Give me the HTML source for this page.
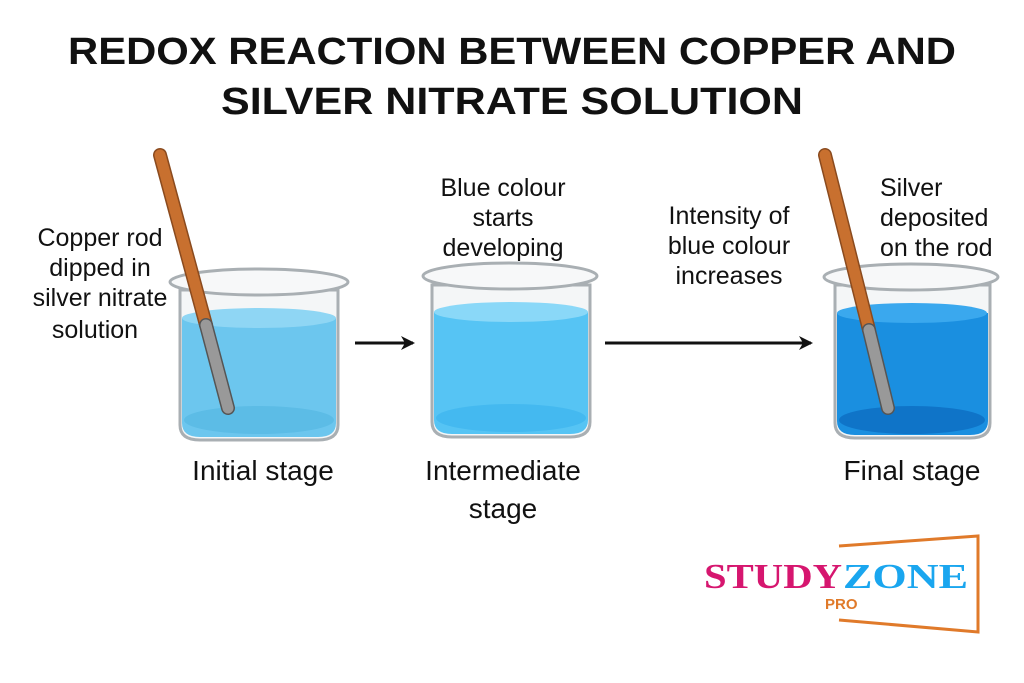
<!DOCTYPE html>
<html><head><meta charset="utf-8"><style>
html,body{margin:0;padding:0;background:#fff;}
svg{display:block;}
text{font-family:"Liberation Sans","DejaVu Sans",sans-serif;fill:#111;}
text.serif{font-family:"Liberation Serif","DejaVu Serif",serif;}
</style></head><body>
<svg width="1024" height="683" viewBox="0 0 1024 683" xmlns="http://www.w3.org/2000/svg">
<defs>
<marker id="ah" markerWidth="14" markerHeight="14" refX="12" refY="7" orient="auto" markerUnits="userSpaceOnUse"><path d="M0,0 L14,7 L0,14 L4,7 Z" fill="#111"/></marker>
</defs>
<text x="512" y="64" text-anchor="middle" font-size="38" font-weight="bold" textLength="888" lengthAdjust="spacingAndGlyphs">REDOX REACTION BETWEEN COPPER AND</text>
<text x="512" y="114" text-anchor="middle" font-size="38" font-weight="bold" textLength="582" lengthAdjust="spacingAndGlyphs">SILVER NITRATE SOLUTION</text>

<!-- Beaker 1 -->
<g>
<path d="M180,290 L180,425 Q180,440 200,440 L318,440 Q338,440 338,425 L338,290 Z" fill="#f4f6f7" stroke="#a9afb3" stroke-width="3"/>
<path d="M182,318 L182,423 Q182,437 200,437 L318,437 Q336,437 336,423 L336,318 Z" fill="#6cc6ee"/>
<ellipse cx="259" cy="318" rx="77" ry="10" fill="#8fd6f4"/>
<ellipse cx="259" cy="420" rx="75" ry="14" fill="#5cbce6"/>
<ellipse cx="259" cy="282" rx="89" ry="13" fill="#f7f8f9" stroke="#a9afb3" stroke-width="3"/>
<line x1="160" y1="155" x2="206" y2="325" stroke="#8a4a1e" stroke-width="14" stroke-linecap="round"/>
<line x1="160" y1="155" x2="206" y2="325" stroke="#c8702f" stroke-width="11" stroke-linecap="round"/>
<line x1="206" y1="325" x2="228" y2="408" stroke="#555" stroke-width="14" stroke-linecap="round"/>
<line x1="206" y1="325" x2="228" y2="408" stroke="#999" stroke-width="11" stroke-linecap="round"/>
</g>
<!-- Beaker 2 -->
<g>
<path d="M432,285 L432,422 Q432,437 452,437 L570,437 Q590,437 590,422 L590,285 Z" fill="#f4f6f7" stroke="#a9afb3" stroke-width="3"/>
<path d="M434,312 L434,420 Q434,434 452,434 L570,434 Q588,434 588,420 L588,312 Z" fill="#56c4f4"/>
<ellipse cx="511" cy="312" rx="77" ry="10" fill="#8ad8f8"/>
<ellipse cx="511" cy="418" rx="75" ry="14" fill="#44b9f0"/>
<ellipse cx="510" cy="276" rx="87" ry="13" fill="#f7f8f9" stroke="#a9afb3" stroke-width="3"/>
</g>
<!-- Beaker 3 -->
<g>
<path d="M835,285 L835,423 Q835,438 855,438 L970,438 Q990,438 990,423 L990,285 Z" fill="#f4f6f7" stroke="#a9afb3" stroke-width="3"/>
<path d="M837,313 L837,421 Q837,435 855,435 L970,435 Q988,435 988,421 L988,313 Z" fill="#1a8fe0"/>
<ellipse cx="912" cy="313" rx="75" ry="10" fill="#3aa8ee"/>
<ellipse cx="912" cy="420" rx="73" ry="14" fill="#0f74c8"/>
<ellipse cx="911" cy="277" rx="87" ry="13" fill="#f7f8f9" stroke="#a9afb3" stroke-width="3"/>
<line x1="825" y1="155" x2="869" y2="330" stroke="#8a4a1e" stroke-width="14" stroke-linecap="round"/>
<line x1="825" y1="155" x2="869" y2="330" stroke="#c8702f" stroke-width="11" stroke-linecap="round"/>
<line x1="869" y1="330" x2="888" y2="408" stroke="#555" stroke-width="14" stroke-linecap="round"/>
<line x1="869" y1="330" x2="888" y2="408" stroke="#999" stroke-width="11" stroke-linecap="round"/>
</g>

<!-- arrows -->
<line x1="355" y1="343" x2="413" y2="343" stroke="#111" stroke-width="3" marker-end="url(#ah)"/>
<line x1="605" y1="343" x2="811" y2="343" stroke="#111" stroke-width="3" marker-end="url(#ah)"/>

<!-- labels -->
<g font-size="25" text-anchor="middle">
<text x="100" y="246">Copper rod</text>
<text x="100" y="276">dipped in</text>
<text x="100" y="306">silver nitrate</text>
<text x="95" y="338">solution</text>
<text x="503" y="196">Blue colour</text>
<text x="503" y="226">starts</text>
<text x="503" y="256">developing</text>
<text x="729" y="224">Intensity of</text>
<text x="729" y="254">blue colour</text>
<text x="729" y="284">increases</text>
<text x="880" y="196" text-anchor="start">Silver</text>
<text x="880" y="226" text-anchor="start">deposited</text>
<text x="880" y="256" text-anchor="start">on the rod</text>
<text font-size="28" x="263" y="480">Initial stage</text>
<text font-size="28" x="503" y="480">Intermediate</text>
<text font-size="28" x="503" y="518">stage</text>
<text font-size="28" x="912" y="480">Final stage</text>
</g>

<!-- logo -->
<path d="M839,546 L978,536 L978,632 L839,620" fill="none" stroke="#e07a2a" stroke-width="3"/>
<text class="serif" x="704" y="588" font-size="35" font-weight="bold" style="fill:#d6166f" textLength="138" lengthAdjust="spacingAndGlyphs">STUDY</text>
<text class="serif" x="843" y="588" font-size="35" font-weight="bold" style="fill:#1aa6ef" textLength="125" lengthAdjust="spacingAndGlyphs">ZONE</text>
<text x="825" y="609" font-size="15" font-weight="bold" style="fill:#e07a2a">PRO</text>
</svg>
</body></html>
